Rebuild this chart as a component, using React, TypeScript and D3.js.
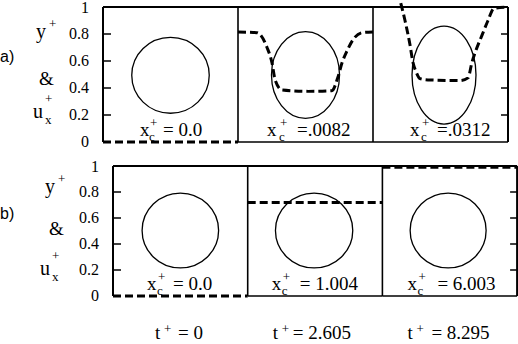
import React from 'react';
import * as d3 from 'd3';

// ---- data ----
const rowNames = ["a)", "b)"];
const yTickValues = [0, 0.2, 0.4, 0.6, 0.8, 1];
const yTickLabels = ["0", "0.2", "0.4", "0.6", "0.8", "1"];
const xcValuesA = ["= 0.0", "=.0082", "=.0312"];
const xcValuesB = ["= 0.0", "= 1.004", "= 6.003"];
const tValues = ["0", "2.605", "8.295"];

// velocity profiles: [position across panel (0..1), u_x+]
const profileA1: [number, number][] = [[0, 0], [1, 0]];
const profileA2: [number, number][] = [
  [0, 0.815], [0.14, 0.81], [0.215, 0.7], [0.252, 0.585], [0.275, 0.46], [0.326, 0.385],
  [0.52, 0.375], [0.695, 0.38], [0.74, 0.48], [0.77, 0.585], [0.81, 0.68], [0.85, 0.755],
  [0.92, 0.81], [1, 0.815],
];
const profileA3: [number, number][] = [
  [0.16, 1.2], [0.2, 1.05], [0.237, 0.9], [0.274, 0.72], [0.296, 0.59], [0.319, 0.52],
  [0.348, 0.47], [0.407, 0.46], [0.644, 0.455], [0.704, 0.475], [0.733, 0.59], [0.763, 0.68],
  [0.807, 0.79], [0.852, 0.9], [0.896, 0.99], [1, 1.0],
];
const profileB1: [number, number][] = [[0, 0], [1, 0]];
const profileB2: [number, number][] = [[0, 0.72], [1, 0.72]];
const profileB3: [number, number][] = [[0, 0.99], [1, 0.99]];

// bubble shapes: centre and radii (x as fraction of panel width, y in y+ units)
const bubblesA = [
  { cx: 0.5, cy: 0.494, rx: 0.287, ry: 0.281 },
  { cx: 0.5, cy: 0.496, rx: 0.252, ry: 0.321 },
  { cx: 0.526, cy: 0.496, rx: 0.237, ry: 0.363 },
];
const bubblesB = [
  { cx: 0.5, cy: 0.504, rx: 0.284, ry: 0.288 },
  { cx: 0.493, cy: 0.504, rx: 0.287, ry: 0.288 },
  { cx: 0.488, cy: 0.504, rx: 0.282, ry: 0.288 },
];

// ---- layout ----
const SERIF = "Liberation Serif, Times New Roman, serif";
const SANS = "Liberation Sans, Arial, sans-serif";

const rows = [
  {
    left: 103, top: 7, bottom: 142, w: 135,
    profiles: [profileA1, profileA2, profileA3],
    bubbles: bubblesA,
    xc: xcValuesA,
    xcBase: 136,
    xcOff: [
      { x: 37, sup: 47, eq: 60 },
      { x: 29, sup: 42, eq: 59 },
      { x: 37, sup: 49, eq: 64 },
    ],
    nameY: 62,
    yLab: { y: [36, 38], amp: [39, 85], u: [33, 118] },
  },
  {
    left: 113, top: 166, bottom: 296, w: 134.7,
    profiles: [profileB1, profileB2, profileB3],
    bubbles: bubblesB,
    xc: xcValuesB,
    xcBase: 290,
    xcOff: [
      { x: 34, sup: 45, eq: 60 },
      { x: 24, sup: 35, eq: 52 },
      { x: 25, sup: 36, eq: 55 },
    ],
    nameY: 219,
    yLab: { y: [45, 193], amp: [49, 235], u: [40, 275] },
  },
];

const tOff = [{ t: 42, eq: 65 }, { t: 25, eq: 45 }, { t: 25, eq: 49 }];

const serif = (size: number) => ({ fontFamily: SERIF, fontSize: size + 'px', whiteSpace: 'pre' as const });

export default function App() {
  const W = 518, H = 344;
  return (
    <svg width={W} height={H} style={{ position: 'absolute', left: 0, top: 0, background: '#fff' }}>
      <rect width={W} height={H} fill="#fff" />
      {rows.map((r, ri) => {
        const ys = d3.scaleLinear().domain([0, 1]).range([r.bottom, r.top]);
        const right = r.left + r.w * 3;
        return (
          <g key={ri}>
            {/* row name */}
            <text x={0} y={r.nameY} style={{ fontFamily: SANS, fontSize: '16px' }} fill="#000">{rowNames[ri]}</text>
            {/* y label: y+ & u_x+ */}
            <text x={r.yLab.y[0]} y={r.yLab.y[1]} style={serif(20)}>y</text>
            <text x={r.yLab.y[0] + 13} y={r.yLab.y[1] - 10} style={serif(13)}>+</text>
            <text x={r.yLab.amp[0]} y={r.yLab.amp[1]} style={serif(19)}>&amp;</text>
            <text x={r.yLab.u[0]} y={r.yLab.u[1]} style={serif(20)}>u</text>
            <text x={r.yLab.u[0] + 12} y={r.yLab.u[1] - 15} style={serif(13)}>+</text>
            <text x={r.yLab.u[0] + 12} y={r.yLab.u[1] + 6} style={serif(13)}>x</text>
            {/* tick labels */}
            {yTickValues.map((v, i) => (
              <text key={i} x={r.left - 14} y={ys(v) + (v === 1 ? 1 : 0)} dy="0.34em" textAnchor="end"
                style={serif(16)}>{yTickLabels[i]}</text>
            ))}
            {/* ticks */}
            {yTickValues.slice(1, -1).map((v, i) => (
              <g key={'t' + i}>
                <line x1={r.left} x2={r.left + 8} y1={ys(v)} y2={ys(v)} stroke="#000" strokeWidth={1.5} />
                <line x1={right - 7} x2={right} y1={ys(v)} y2={ys(v)} stroke="#000" strokeWidth={1.5} />
              </g>
            ))}
            {[0, 1, 2].map((p) => {
              const x0 = r.left + p * r.w;
              const xs = d3.scaleLinear().domain([0, 1]).range([x0, x0 + r.w]);
              const b = r.bubbles[p];
              const line = d3.line<[number, number]>()
                .x((d) => xs(d[0]))
                .y((d) => ys(d[1]))
                .curve(d3.curveMonotoneX);
              const o = r.xcOff[p];
              return (
                <g key={p}>
                  <ellipse cx={xs(b.cx)} cy={ys(b.cy)} rx={xs(b.rx) - xs(0)} ry={ys(0) - ys(b.ry)}
                    fill="none" stroke="#000" strokeWidth={1.3} />
                  <text x={x0 + o.x} y={r.xcBase} style={serif(19)}>x</text>
                  <text x={x0 + o.sup} y={r.xcBase - 9} style={serif(13)}>+</text>
                  <text x={x0 + o.sup - 1} y={r.xcBase + 5} style={serif(13)}>c</text>
                  <text x={x0 + o.eq} y={r.xcBase} style={serif(19)}>{r.xc[p]}</text>
                  {/* panel borders */}
                  {p > 0 && (
                    <line x1={x0} x2={x0} y1={r.top} y2={r.bottom} stroke="#000" strokeWidth={1.6} />
                  )}
                  {p > 0 && (
                    <line x1={x0} x2={x0 + r.w} y1={r.bottom} y2={r.bottom} stroke="#000" strokeWidth={1.3} />
                  )}
                  <path d={line(r.profiles[p]) || ''} fill="none" stroke="#000" strokeWidth={3}
                    strokeDasharray="8 4" />
                </g>
              );
            })}
            {/* outer frame */}
            <line x1={r.left} x2={right} y1={r.top} y2={r.top} stroke="#000" strokeWidth={2} />
            <line x1={r.left} x2={r.left} y1={r.top} y2={r.bottom} stroke="#000" strokeWidth={2} />
            <line x1={right} x2={right} y1={r.top} y2={r.bottom} stroke="#000" strokeWidth={2} />
          </g>
        );
      })}
      {/* time labels */}
      {tValues.map((t, i) => {
        const x0 = rows[1].left + i * rows[1].w;
        return (
          <g key={i}>
            <text x={x0 + tOff[i].t} y={339} style={serif(19)}>t</text>
            <text x={x0 + tOff[i].t + 9} y={333} style={serif(13)}>+</text>
            <text x={x0 + tOff[i].eq} y={339} style={serif(19)}>{'= ' + t}</text>
          </g>
        );
      })}
    </svg>
  );
}
